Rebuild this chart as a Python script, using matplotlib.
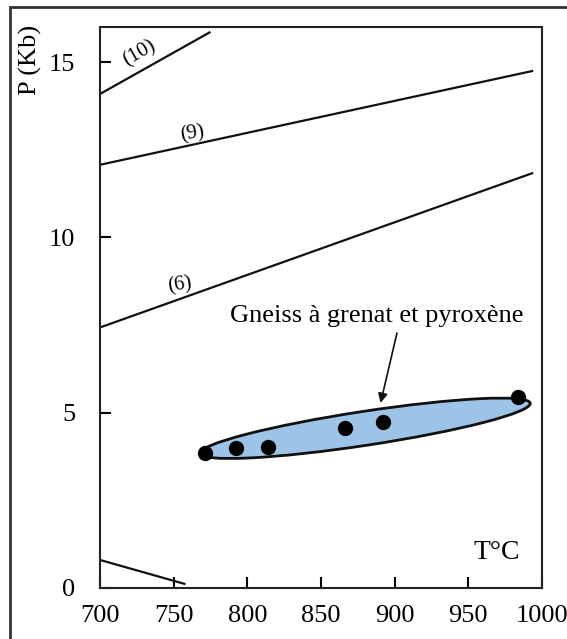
import numpy as np
import matplotlib
matplotlib.use("Agg")
import matplotlib.pyplot as plt
import matplotlib.patches as mpatches
from matplotlib.transforms import Affine2D

plt.rcParams["font.family"] = ["Liberation Serif", "DejaVu Serif"]

# reaction curves (T in deg C, P in kbar)
curve_labels = ["(10)", "(9)", "(6)", ""]
curve_T = [[700, 775], [700, 994], [700, 994], [700, 758]]
curve_P = [[14.09, 15.86], [12.07, 14.75], [7.43, 11.84], [0.80, 0.11]]
label_T = [727, 763, 754]
label_P = [15.25, 12.95, 8.63]
label_rot = [30, 10, 8]

# garnet-pyroxene gneiss samples
sample_T = [771, 792, 814, 866, 892, 984]
sample_P = [3.84, 3.99, 4.01, 4.55, 4.73, 5.44]

# field envelope: tips of the long axis, half-thickness in pixels
field_tips_T = [768, 992]
field_tips_P = [3.84, 5.27]
field_half_px = 17

xticks = [700, 750, 800, 850, 900, 950, 1000]
yticks = [0, 5, 10, 15]

W, H = 567, 639
fig = plt.figure(figsize=(W / 100, H / 100), dpi=100)
ax = fig.add_axes([100 / W, (H - 588) / H, 442 / W, 561 / H])
ax.set_xlim(700, 1000)
ax.set_ylim(0, 16)

# outer frame around the whole figure
fig.patches.append(
    mpatches.Rectangle(
        (10 / W, -0.1), 1.2, 1.1 - 7 / H,
        transform=fig.transFigure, fill=False, edgecolor="#333333", linewidth=2,
    )
)

for T, P in zip(curve_T, curve_P):
    ax.plot(T, P, color="#111111", lw=1.6, solid_capstyle="butt")
for lab, T, P, r in zip(curve_labels, label_T, label_P, label_rot):
    ax.text(T, P, lab, fontsize=15, rotation=r, ha="center", va="center")

# ellipse drawn in pixel units so it keeps its shape on the unequal axes
sx = 442 / 300
sy = 561 / 16
x0, x1 = field_tips_T[0] * sx, field_tips_T[1] * sx
y0, y1 = field_tips_P[0] * sy, field_tips_P[1] * sy
cx, cy = (x0 + x1) / 2, (y0 + y1) / 2
length = np.hypot(x1 - x0, y1 - y0)
angle = np.degrees(np.arctan2(y1 - y0, x1 - x0))
field = mpatches.Ellipse(
    (cx, cy), length, 2 * field_half_px, angle=angle,
    facecolor="#9dc3e6", edgecolor="#111111", linewidth=2,
    transform=Affine2D().scale(1 / sx, 1 / sy) + ax.transData,
)
ax.add_patch(field)

ax.plot(sample_T, sample_P, "o", color="black", markersize=10, zorder=5)

ax.annotate(
    "", xy=(890, 5.2), xytext=(902, 7.35),
    arrowprops=dict(arrowstyle="-|>", color="#111111", lw=1.2, mutation_scale=14),
)
ax.text(888, 7.77, "Gneiss à grenat et pyroxène", fontsize=19,
        ha="center", va="center")
ax.text(969, 1.02, "T°C", fontsize=20, ha="center", va="center")

ax.set_xticks(xticks)
ax.set_yticks(yticks)
ax.tick_params(direction="in", length=8, width=1.5, labelsize=19)
ax.tick_params(axis="x", pad=12)
ax.tick_params(axis="y", pad=18)
for s in ax.spines.values():
    s.set_linewidth(1.5)
    s.set_color("#222222")

fig.text(30 / W, 1 - 60 / H, "P (Kb)", rotation=90, fontsize=19,
         ha="center", va="center")

fig.savefig("out.png", dpi=100)
